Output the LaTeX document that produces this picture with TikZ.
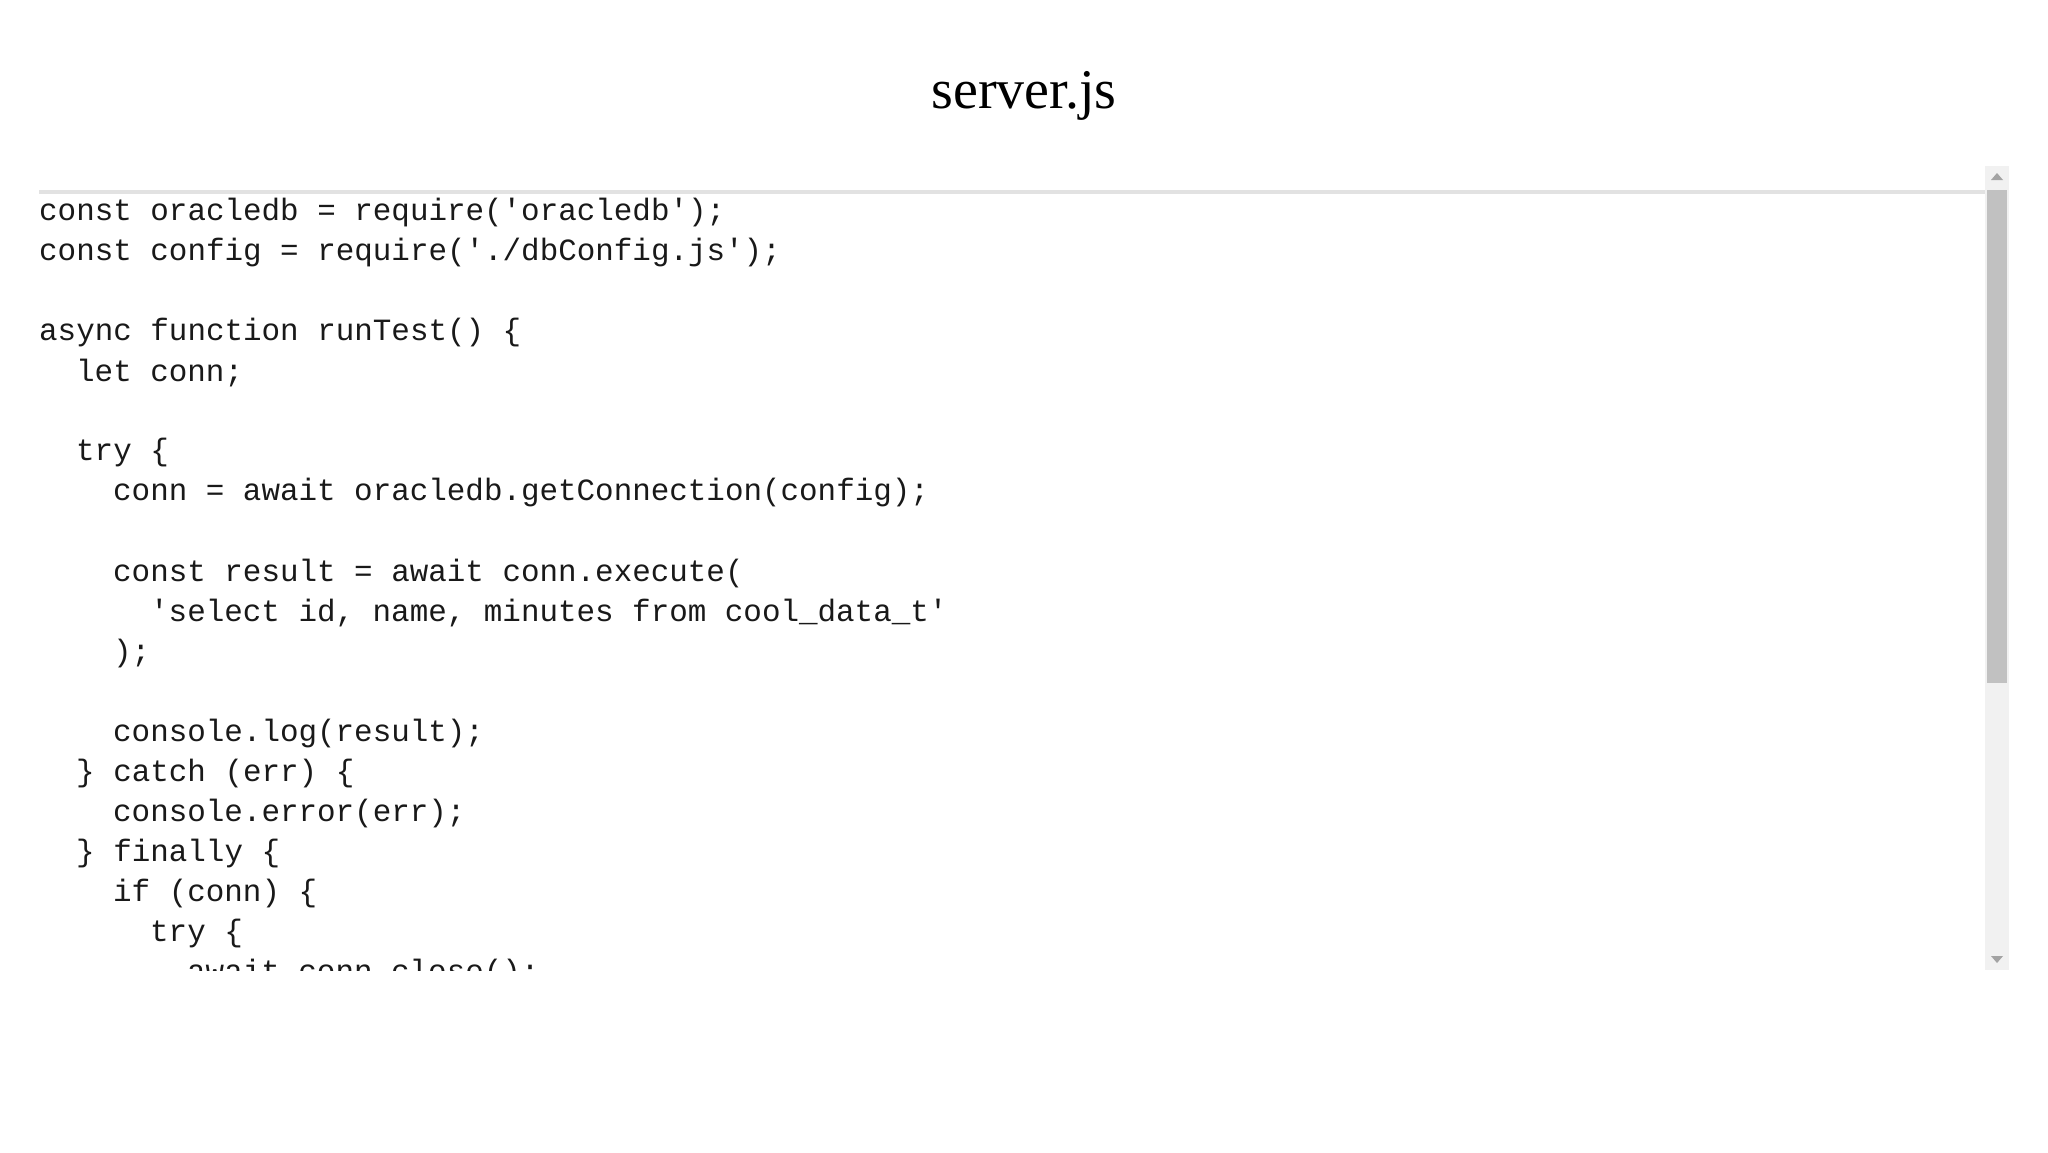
\documentclass[tikz,border=0pt]{standalone}
\usepackage{fontspec}
\setmainfont{Liberation Serif}
\newfontfamily\codefont{Liberation Mono}
\definecolor{trackgray}{RGB}{241,241,241}
\definecolor{thumbgray}{RGB}{193,193,193}
\definecolor{rulegray}{RGB}{226,226,226}
\definecolor{arrowgray}{RGB}{163,163,163}
\tikzset{
  codeline/.style={anchor=west, inner sep=0pt, font=\codefont\fontsize{30.9}{40}\selectfont, text=black!90},
}
\begin{document}
\begin{tikzpicture}[x=1pt,y=-1pt]
    \useasboundingbox (0,0) rectangle (2048,1152);
    \fill[white] (0,0) rectangle (2048,1152);
    \node (title) at (1024,96) [inner sep=0pt, font=\fontsize{56}{60}\selectfont] {server.js};
    % scroll bar
    \fill[trackgray] (1985,166) rectangle (2009,970);
    \fill[thumbgray] (1987,190) rectangle (2007,683);
    \fill[arrowgray] (1991,180) -- (2003,180) -- (1997,173) -- cycle;
    \fill[arrowgray] (1991,956) -- (2003,956) -- (1997,963) -- cycle;
    \draw[rulegray, line width=4pt] (39,192) -- (1985,192);
    \begin{scope}
    \clip (0,194) rectangle (1985,970);
    \node[codeline] (l1) at (39,213) {const oracledb = require('oracledb');};
    \node[codeline] (l2) at (39,253) {const config = require('./dbConfig.js');};
    \node[codeline] (l4) at (39,333) {async function runTest() \{};
    \node[codeline] (l5) at (76,373) {let conn;};
    \node[codeline] (l7) at (76,453) {try \{};
    \node[codeline] (l8) at (113,493) {conn = await oracledb.getConnection(config);};
    \node[codeline] (l10) at (113,573) {const result = await conn.execute(};
    \node[codeline] (l11) at (150,613) {'select id, name, minutes from cool\_data\_t'};
    \node[codeline] (l12) at (113,653) {);};
    \node[codeline] (l14) at (113,733) {console.log(result);};
    \node[codeline] (l15) at (76,773) {\} catch (err) \{};
    \node[codeline] (l16) at (113,813) {console.error(err);};
    \node[codeline] (l17) at (76,853) {\} finally \{};
    \node[codeline] (l18) at (113,893) {if (conn) \{};
    \node[codeline] (l19) at (150,933) {try \{};
    \node[codeline] (l20) at (187,973) {await conn.close();};
    \end{scope}
\end{tikzpicture}
\end{document}
